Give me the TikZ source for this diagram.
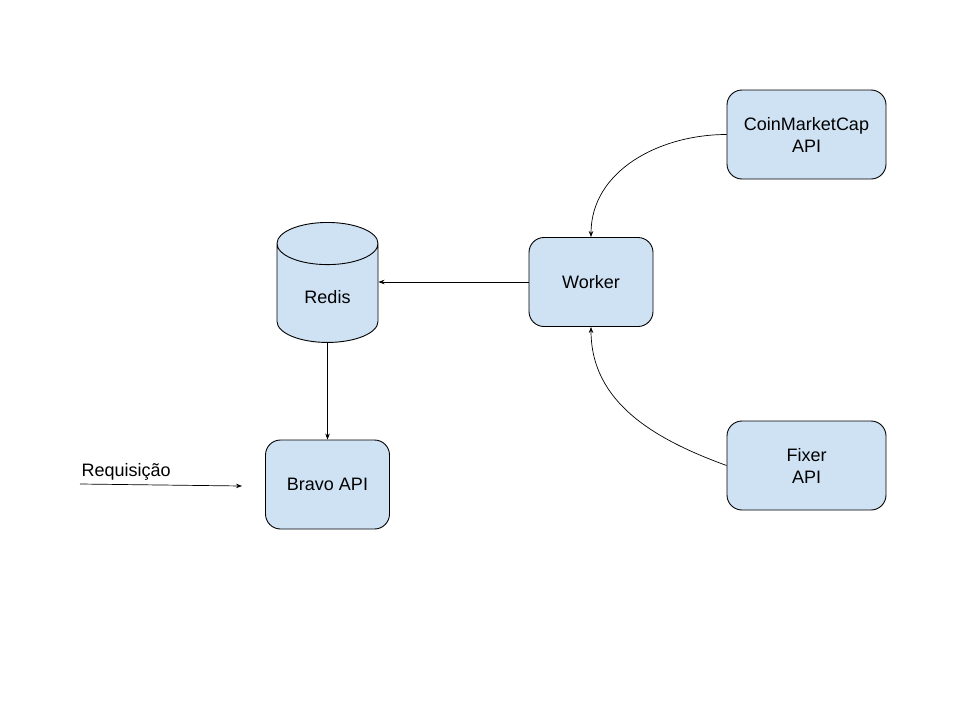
\documentclass[tikz,border=0pt]{standalone}
\usepackage{fontspec}
\setmainfont{Liberation Sans}
\usetikzlibrary{shapes.geometric,arrows.meta}

\definecolor{boxblue}{HTML}{CFE2F3}

\tikzset{
  box/.style={draw, fill=boxblue, rounded corners=15pt, line width=0.9pt,
    minimum width=124pt, minimum height=89pt, align=center,
    font=\fontsize{18}{22}\selectfont},
  store/.style={draw, fill=boxblue, cylinder, shape border rotate=90,
    aspect=0.8, line width=0.9pt, minimum width=101pt, minimum height=120pt,
    font=\fontsize{18}{22}\selectfont},
  conn/.style={line width=0.7pt, -{Stealth[length=6pt,width=4.5pt]}}
}

\begin{document}
\begin{tikzpicture}[x=1pt,y=-1pt]
\useasboundingbox (0,0) rectangle (960,720);

\node [store, anchor=north] (redis) at (327.5,222) {Redis};
\node [box] (worker) at (591,282) {Worker};
\node [box, minimum width=159pt] (cmc) at (806.5,134.5) {CoinMarketCap\\API};
\node [box, minimum width=159pt] (fixer) at (806.5,465.5) {Fixer\\API};
\node [box] (bravo) at (327.5,484.5) {Bravo API};

\coordinate (reqin) at (80,484);
\coordinate (reqout) at (242,486);

\draw [conn] (worker.west) -- (redis.east |- worker.west);
\draw [conn] (redis.south) -- (bravo.north);
\draw [conn] (cmc.west) to [out=180,in=90] (worker.north);
\draw [conn] (fixer.west) to [out=160,in=-90] (worker.south);
\draw [conn] (reqin) -- (reqout);

\node [font=\fontsize{18}{22}\selectfont, anchor=base west] (reqlabel) at (78,476) {Requisição};
\end{tikzpicture}
\end{document}
